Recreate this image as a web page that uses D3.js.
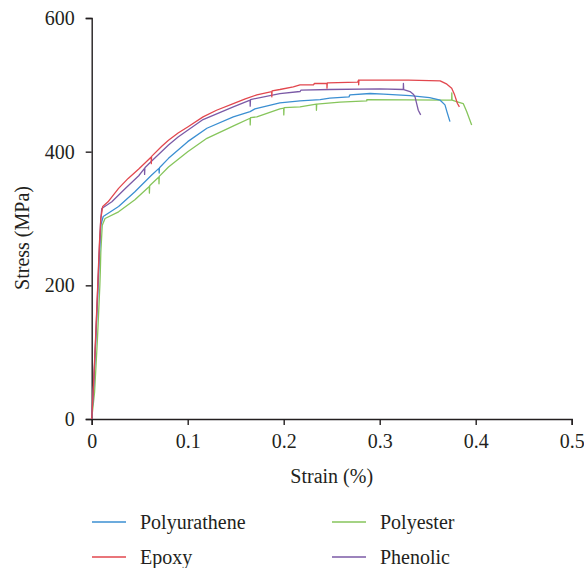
<!DOCTYPE html>
<html>
<head>
<meta charset="utf-8">
<script src="https://cdn.jsdelivr.net/npm/d3@7"></script>
<style>
  body { margin: 0; background: #fff; }
  svg text { font-family: "Liberation Serif", "Times New Roman", serif; fill: #231f20; }
</style>
</head>
<body>
<div id="chart"></div>
<script>
// tick labels
var xTicks = [0, 0.1, 0.2, 0.3, 0.4, 0.5];
var yTicks = [0, 200, 400, 600];

var seriesNames = ["Polyurathene", "Epoxy", "Polyester", "Phenolic"];
var seriesColors = ["#3b8fd2", "#e2474e", "#86c55b", "#7b5aa6"];

// strain (%) / stress (MPa)
var polyurStrain = [0, 0.002, 0.004, 0.006, 0.008, 0.0095, 0.012, 0.028, 0.045, 0.0625, 0.07, 0.0703, 0.0706, 0.08, 0.1, 0.12, 0.1475, 0.165, 0.17, 0.196, 0.217, 0.238, 0.248, 0.268, 0.269, 0.29, 0.304, 0.3316, 0.352, 0.363, 0.368, 0.37, 0.3732];
var polyurStress = [0, 50, 110, 175, 245, 290, 303, 318, 340, 365, 375, 368, 376, 390, 415, 435, 452, 460, 464, 473, 476, 478, 480, 482, 485, 487, 486, 484, 481, 477, 470, 460, 445];

var epoxyStrain = [0, 0.002, 0.004, 0.006, 0.008, 0.0095, 0.0115, 0.017, 0.028, 0.038, 0.049, 0.062, 0.0621, 0.0624, 0.073, 0.08, 0.09, 0.1, 0.116, 0.13, 0.1475, 0.16, 0.172, 0.1875, 0.1876, 0.1879, 0.196, 0.21, 0.217, 0.231, 0.232, 0.245, 0.2451, 0.2454, 0.246, 0.277, 0.278, 0.2781, 0.2784, 0.33, 0.363, 0.37, 0.375, 0.378, 0.381, 0.383];
var epoxyStress = [0, 55, 120, 190, 262, 300, 318, 325, 345, 360, 374, 392, 382, 393, 408, 417, 428, 437, 452, 462, 472, 479, 485, 490, 482, 491, 493, 497, 500, 500, 502, 502, 495, 503, 503, 504, 507, 500, 507, 507, 506, 501, 495, 485, 472, 467];

var polyesterStrain = [0, 0.003, 0.006, 0.0085, 0.009, 0.0095, 0.011, 0.0139, 0.028, 0.045, 0.06, 0.0601, 0.0604, 0.0625, 0.07, 0.0701, 0.0704, 0.08, 0.1, 0.12, 0.15, 0.165, 0.1651, 0.1654, 0.172, 0.196, 0.2, 0.2001, 0.2004, 0.217, 0.234, 0.2341, 0.2344, 0.2586, 0.2865, 0.2866, 0.37, 0.375, 0.3751, 0.3754, 0.38, 0.387, 0.3906, 0.3958];
var polyesterStress = [0, 40, 120, 200, 222, 250, 290, 300, 310, 328, 348, 338, 349, 352, 362, 352, 363, 377, 400, 420, 440, 450, 440, 451, 452, 464, 465, 455, 466, 467, 471, 462, 471, 474, 476, 478, 477, 477, 488, 477, 475, 472, 460, 440];

var phenolicStrain = [0, 0.002, 0.004, 0.006, 0.008, 0.0095, 0.0105, 0.021, 0.035, 0.049, 0.055, 0.0551, 0.0554, 0.0625, 0.08, 0.09, 0.1, 0.116, 0.1475, 0.165, 0.1651, 0.1654, 0.196, 0.217, 0.218, 0.248, 0.3, 0.3246, 0.3247, 0.325, 0.3316, 0.335, 0.3368, 0.3385, 0.3402, 0.3427];
var phenolicStress = [0, 50, 115, 185, 255, 300, 315, 325, 345, 364, 375, 366, 376, 386, 410, 422, 432, 448, 467, 477, 468, 478, 487, 490, 492, 493, 494, 493, 502, 493, 490, 486, 482, 472, 462, 455];

var strainData = [polyurStrain, epoxyStrain, polyesterStrain, phenolicStrain];
var stressData = [polyurStress, epoxyStress, polyesterStress, phenolicStress];

var width = 584, height = 568;
var plotLeft = 91.7, plotRight = 571.7, plotTop = 18, plotBottom = 419;
var fontSize = 20;

var svg = d3.select("#chart").append("svg")
	.attr("width", width)
	.attr("height", height);

var x = d3.scaleLinear().domain([0, 0.5]).range([plotLeft, plotRight]);
var y = d3.scaleLinear().domain([0, 600]).range([plotBottom, plotTop]);

var xAxis = svg.append("g")
	.attr("transform", "translate(0," + plotBottom + ")")
	.call(d3.axisBottom(x).tickValues(xTicks).tickSize(6).tickPadding(9)
		.tickFormat(function(d){ return d === 0 ? "0" : d3.format(".1f")(d); }));
var yAxis = svg.append("g")
	.attr("transform", "translate(" + plotLeft + ",0)")
	.call(d3.axisLeft(y).tickValues(yTicks).tickSize(6).tickPadding(11));

[xAxis, yAxis].forEach(function(g){
	g.select(".domain").attr("stroke", "#231f20").attr("stroke-width", 1.4);
	g.selectAll(".tick line").attr("stroke", "#231f20").attr("stroke-width", 1.4);
	g.selectAll(".tick text").attr("font-size", fontSize).attr("font-family", "Liberation Serif").attr("fill", "#231f20");
});

svg.append("text")
	.attr("x", (plotLeft + plotRight) / 2)
	.attr("y", 483)
	.attr("text-anchor", "middle")
	.attr("font-size", fontSize)
	.text("Strain (%)");

svg.append("text")
	.attr("transform", "translate(29," + 238 + ") rotate(-90)")
	.attr("text-anchor", "middle")
	.attr("font-size", fontSize)
	.text("Stress (MPa)");

var line = d3.line()
	.x(function(d){ return x(d[0]); })
	.y(function(d){ return y(d[1]); });

// draw order: polyester, polyurathene, phenolic, epoxy on top
[2, 0, 3, 1].forEach(function(i){
	var pts = d3.zip(strainData[i], stressData[i]);
	svg.append("path")
		.datum(pts)
		.attr("fill", "none")
		.attr("stroke", seriesColors[i])
		.attr("stroke-width", 1.3)
		.attr("stroke-linejoin", "round")
		.attr("d", line);
});

// legend, two columns
var legX = [92, 332], legY = [522, 557];
seriesNames.forEach(function(name, i){
	var col = Math.floor(i / 2), row = i % 2;
	var g = svg.append("g").attr("transform", "translate(" + legX[col] + "," + legY[row] + ")");
	g.append("line")
		.attr("x1", 0).attr("x2", 34)
		.attr("y1", 0).attr("y2", 0)
		.attr("stroke", seriesColors[i])
		.attr("stroke-width", 1.6);
	g.append("text")
		.attr("x", 48)
		.attr("y", 0)
		.attr("dy", "0.35em")
		.attr("font-size", fontSize)
		.text(name);
});
</script>
</body>
</html>
